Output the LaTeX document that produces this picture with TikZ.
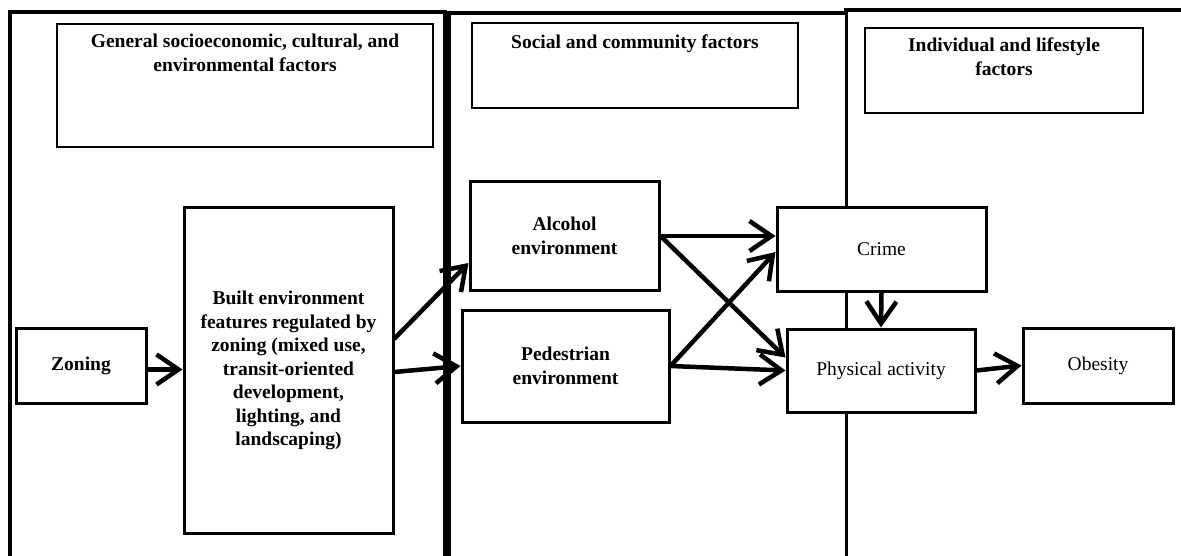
\documentclass[tikz,border=0pt]{standalone}
\usepackage{fontspec}
\setmainfont{Liberation Serif}
\usetikzlibrary{arrows.meta}
\newcommand\fsz{\fontsize{19.5}{23.5}\selectfont}
\tikzset{
  panel/.style={line width=4pt, line cap=rect},
  hdrbox/.style={draw, line width=2pt, fill=white, inner sep=0pt},
  hdrtext/.style={font=\fsz\bfseries, align=center, inner sep=0pt, anchor=north},
  bbox/.style={draw, line width=3pt, fill=white, inner sep=0pt, align=center, font=\fsz\bfseries},
  rbox/.style={draw, line width=3pt, fill=white, inner sep=0pt, align=center, font=\fsz},
  arr/.style={line width=4.5pt, -{Straight Barb[length=22pt,width=30pt,line width=4.5pt]}, line cap=round, line join=round}
}
\begin{document}
\begin{tikzpicture}[x=1pt,y=-1pt]
\useasboundingbox (0,0) rectangle (1181,556);
% panels
\draw[panel] (10,556) -- (10,12) -- (445,12) -- (445,556);
\draw[panel] (449,556) -- (449,13) -- (845,13);
\draw[line width=3pt] (846,556) -- (846,10);
\draw[line width=3.5pt] (844,10) -- (1181,10);
% header boxes
\node[hdrbox, minimum width=376, minimum height=123] (h1) at (245,85.5) {};
\node[hdrtext] (t1) at ([yshift=-11pt]h1.north) {General socioeconomic, cultural, and\\environmental factors};
\node[hdrbox, minimum width=326, minimum height=85] (h2) at (635,65.5) {};
\node[hdrtext] (t2) at ([yshift=-13pt]h2.north) {Social and community factors};
\node[hdrbox, minimum width=278, minimum height=85] (h3) at (1004,70.5) {};
\node[hdrtext] (t3) at ([yshift=-11pt]h3.north) {Individual and lifestyle\\factors};
% nodes
\node[bbox, minimum width=130, minimum height=75] (zon) at (81,365.5) {Zoning};
\node[bbox, minimum width=209, minimum height=325] (built) at (288.5,370.5) {Built environment\\features regulated by\\zoning (mixed use,\\transit-oriented\\development,\\lighting, and\\landscaping)};
\node[bbox, minimum width=189, minimum height=108] (alc) at (564.5,236) {Alcohol\\environment};
\node[bbox, minimum width=207, minimum height=112] (ped) at (565.5,366) {Pedestrian\\environment};
\node[rbox, minimum width=209, minimum height=83] (crime) at (881.5,249.5) {Crime};
\node[rbox, minimum width=188, minimum height=83] (pa) at (881,370.5) {Physical activity};
\node[rbox, minimum width=150, minimum height=75] (obe) at (1098,365.5) {Obesity};
% arrows
\draw[arr] ([yshift=-4pt]zon.east) -- ([yshift=-4pt]zon.east -| built.west);
\draw[arr] ([yshift=32pt]built.east) -- ([yshift=-27pt]alc.west);
\draw[arr] ([yshift=-1.5pt]built.east) -- (ped.west);
\draw[arr] (alc.east) -- (alc.east -| crime.west);
\draw[arr] (alc.east) -- ([yshift=13pt]pa.west);
\draw[arr] (ped.east) -- ([yshift=-2.5pt]crime.west);
\draw[arr] (ped.east) -- (pa.west);
\draw[arr] (crime.south) -- (pa.north);
\draw[arr] (pa.east) -- (obe.west);
\end{tikzpicture}
\end{document}
